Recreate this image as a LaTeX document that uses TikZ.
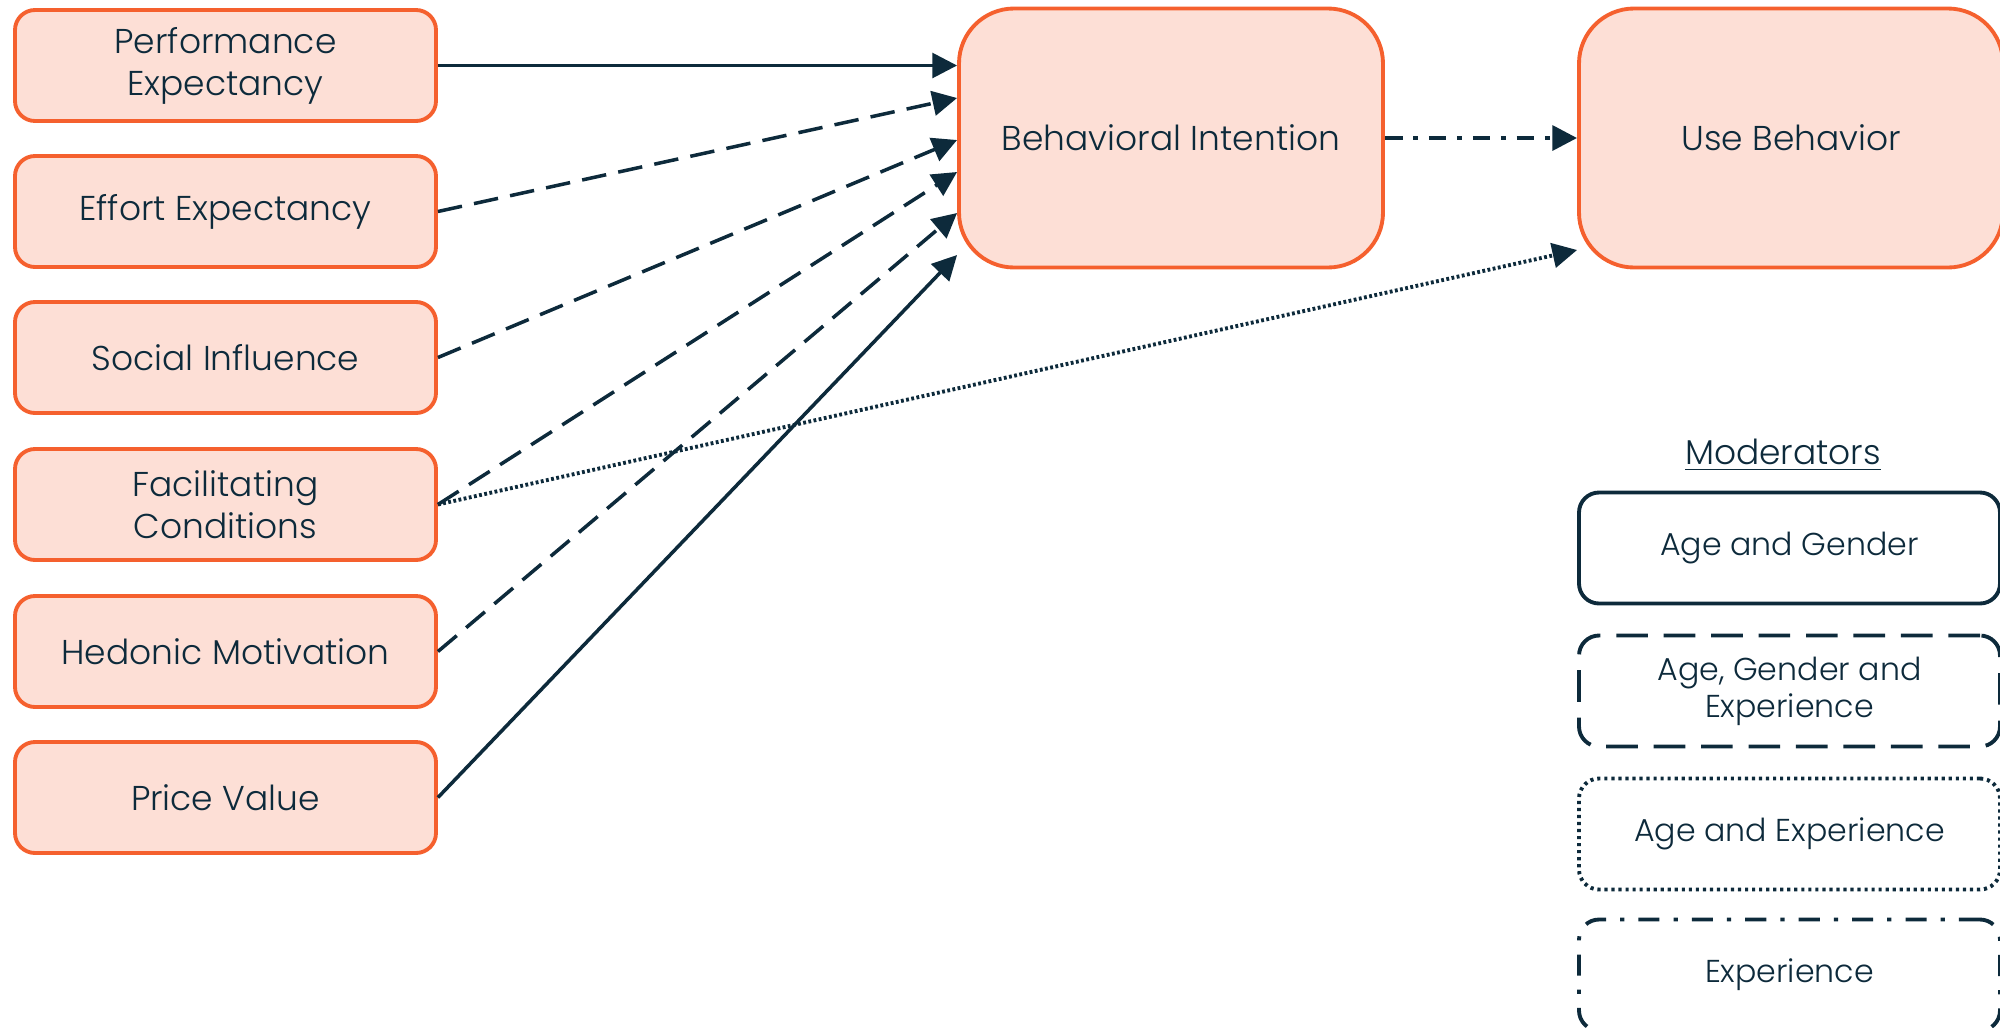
\documentclass[tikz,border=0pt]{standalone}
\usepackage{fontspec}
\setmainfont{Poppins}[UprightFont=* Light]
\usetikzlibrary{arrows.meta, positioning}
\definecolor{boxfill}{HTML}{FDDFD6}
\definecolor{boxline}{HTML}{F5602E}
\definecolor{navy}{HTML}{0D2A3B}

\begin{document}
\begin{tikzpicture}[font=\fontsize{9.8}{12}\selectfont, text=navy,
  factor/.style={draw=boxline, fill=boxfill, line width=1.1pt, rounded corners=0.2cm, minimum width=4.21cm, minimum height=1.11cm, align=center, inner sep=0pt},
  target/.style={factor, rounded corners=0.55cm, minimum width=4.24cm, minimum height=2.59cm},
  moderator/.style={draw=navy, line width=1.1pt, rounded corners=0.2cm, minimum width=4.21cm, minimum height=1.11cm, align=center, inner sep=0pt, font=\fontsize{9}{10.5}\selectfont},
  link/.style={draw=navy, line width=1pt, -{Triangle[length=7pt,width=7pt]}},
  dashlink/.style={link, dash pattern=on 7pt off 3.5pt},
  dotlink/.style={link, line width=1.1pt, dash pattern=on 0.8pt off 0.7pt},
  dashdotlink/.style={link, line width=1.2pt, dash pattern=on 5pt off 3pt on 1.5pt off 3pt}]
\useasboundingbox (0,0) rectangle (20,-10.27);
\node[factor] (pe) at (2.255,-0.655) {Performance\\Expectancy};
\node[factor] (ee) at (2.255,-2.115) {Effort Expectancy};
\node[factor] (si) at (2.255,-3.575) {Social Influence};
\node[factor] (fc) at (2.255,-5.045) {Facilitating\\Conditions};
\node[factor] (hm) at (2.255,-6.515) {Hedonic Motivation};
\node[factor] (pv) at (2.255,-7.975) {Price Value};
\node[target] (bi) at (11.71,-1.38) {Behavioral Intention};
\node[target] (ub) at (17.91,-1.38) {Use Behavior};
\node (mod) at (17.83,-4.55) {\underline{Moderators}};
\node[moderator] (ag) at (17.895,-5.48) {Age and Gender};
\node[moderator, dash pattern=on 9pt off 4.5pt] (age) at (17.895,-6.91) {Age, Gender and\\Experience};
\node[moderator, dash pattern=on 0.9pt off 1.1pt] (ae) at (17.895,-8.34) {Age and Experience};
\node[moderator, dash pattern=on 6pt off 4pt on 1.2pt off 4pt] (ex) at (17.895,-9.75) {Experience};
\draw[link] (pe.east) -- ([yshift=0.725cm]bi.west);
\draw[dashlink] (ee.east) -- ([yshift=0.40cm]bi.west);
\draw[dashlink] (si.east) -- ([yshift=-0.02cm]bi.west);
\draw[dashlink] (fc.east) -- ([yshift=-0.34cm]bi.west);
\draw[dashlink] (hm.east) -- ([yshift=-0.75cm]bi.west);
\draw[link] (pv.east) -- ([yshift=-1.17cm]bi.west);
\draw[dotlink] (fc.east) -- ([yshift=-1.12cm]ub.west);
\draw[dashdotlink] (bi.east) -- (ub.west);
\end{tikzpicture}
\end{document}
